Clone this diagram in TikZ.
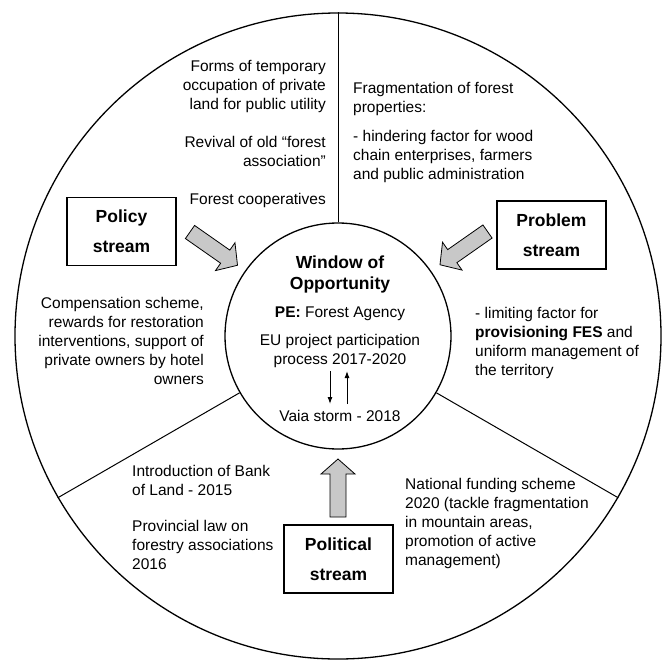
\documentclass[tikz,border=0pt]{standalone}
\usepackage{fontspec}
\setmainfont{Liberation Sans}
\usetikzlibrary{arrows.meta}
\definecolor{arrowgray}{RGB}{200,200,200}
\begin{document}
\begin{tikzpicture}[x=1pt,y=-1pt,
  txt/.style={inner sep=0pt, font=\fontsize{15.5}{19}\selectfont},
  lefttxt/.style={txt, anchor=north west, align=left},
  righttxt/.style={txt, anchor=north east, align=right},
  midtxt/.style={txt, anchor=north, align=center},
  streambox/.style={draw, line width=1.2pt, minimum width=109pt, minimum height=68pt, inner sep=0pt, align=center, font=\fontsize{17.5}{30}\selectfont\bfseries},
  ring/.style={circle, draw, line width=1.3pt, inner sep=0pt},
  divider/.style={line width=1pt},
  pics/fatarrow/.style={code={\draw[fill=arrowgray, line width=0.8pt, line join=miter] (0,-8) -- (43,-8) -- (43,-17) -- (58,0) -- (43,17) -- (43,8) -- (0,8) -- cycle;}},
  thinarrow/.style={-{Latex[length=7pt,width=5pt]}, line width=1pt}
]
\useasboundingbox (0,0) rectangle (667,659);

% circles
\node[ring, minimum size=646pt] (outer) at (338,336) {};
\node[ring, minimum size=226pt] (window) at (338,336) {};

% dividers
\draw[divider] (window.90) -- (outer.90);
\draw[divider] (window.210) -- (outer.210);
\draw[divider] (window.330) -- (outer.330);

% top-left texts
\node[righttxt] (forms) at (326,58) {\strut Forms of temporary\\occupation of private\\land for public utility};
\node[righttxt] (revival) at (326,134) {\strut Revival of old “forest\\association”};
\node[righttxt] (coop) at (326,191) {\strut Forest cooperatives};

% top-right texts
\node[lefttxt] (frag) at (353,80) {\strut Fragmentation of forest\\properties:};
\node[lefttxt] (hinder) at (353,128) {\strut - hindering factor for wood\\chain enterprises, farmers\\and public administration};

% middle texts
\node[righttxt] (comp) at (204,295) {\strut Compensation scheme,\\rewards for restoration\\interventions, support of\\private owners by hotel\\owners};
\node[lefttxt] (limit) at (475,305) {\strut - limiting factor for\\\textbf{provisioning FES} and\\uniform management of\\the territory};

% window texts
\node[midtxt, font=\fontsize{17.5}{21}\selectfont\bfseries] (wtitle) at (340,254) {\strut Window of\\Opportunity};
\node[midtxt] (pe) at (340,304) {\strut\textbf{PE:} Forest Agency};
\node[midtxt] (eu) at (340,332) {\strut EU project participation\\process 2017-2020};
\node[midtxt] (vaia) at (340,408) {\strut Vaia storm - 2018};

\coordinate (dtop) at (330,371);
\coordinate (dbot) at (330,404);
\coordinate (utop) at (347,371);
\coordinate (ubot) at (347,404);
\draw[thinarrow] (dtop) -- (dbot);
\draw[thinarrow] (ubot) -- (utop);

% bottom texts
\node[lefttxt] (bank) at (132,463) {\strut Introduction of Bank\\of Land - 2015};
\node[lefttxt] (prov) at (132,518) {\strut Provincial law on\\forestry associations\\2016};
\node[lefttxt] (natl) at (405,476) {\strut National funding scheme\\2020 (tackle fragmentation\\in mountain areas,\\promotion of active\\management)};

% stream boxes
\node[streambox] (policy) at (121.5,231.5) {Policy\\stream};
\node[streambox] (problem) at (551.5,235) {Problem\\stream};
\node[streambox] (political) at (338.5,559) {Political\\stream};

% block arrows
\pic[rotate=-35] (policyarrow) at (190,232) {fatarrow};
\pic[rotate=-145] (problemarrow) at (487.5,231.5) {fatarrow};
\pic[rotate=90] (politicalarrow) at (338,517) {fatarrow};
\end{tikzpicture}
\end{document}
